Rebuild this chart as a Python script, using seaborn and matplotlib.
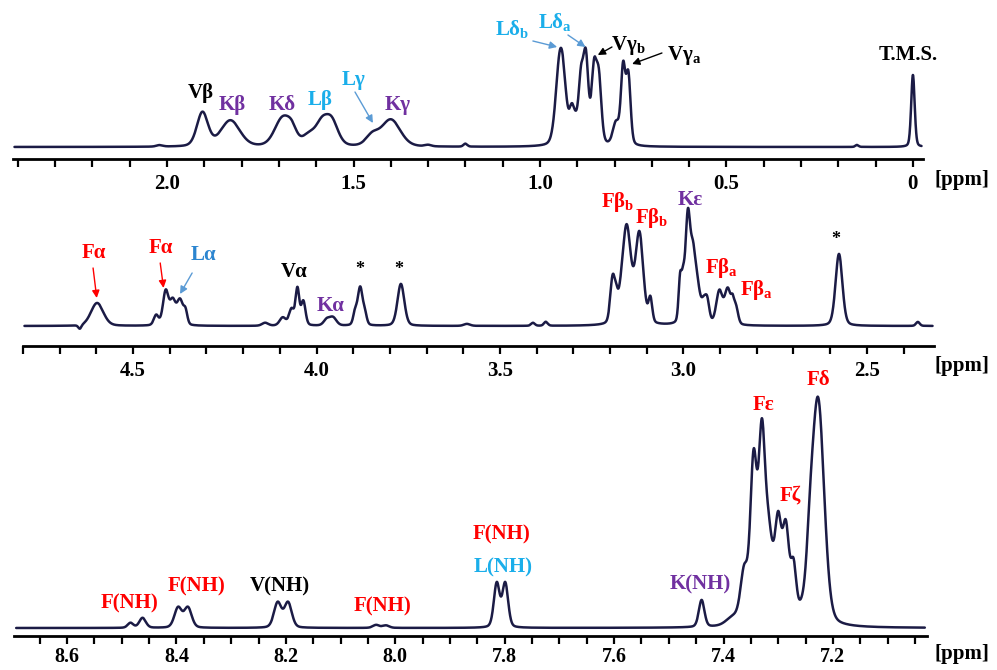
import numpy as np
import pandas as pd
import matplotlib
matplotlib.use("Agg")
import matplotlib.pyplot as plt
from matplotlib.ticker import MultipleLocator, FuncFormatter
import seaborn as sns

sns.set_theme(style="white")
plt.rcParams["font.family"] = ["Liberation Serif", "DejaVu Serif"]
plt.rcParams["font.weight"] = "bold"
plt.rcParams["mathtext.fontset"] = "custom"
plt.rcParams["mathtext.rm"] = "Liberation Serif:bold"
plt.rcParams["mathtext.bf"] = "Liberation Serif:bold"

# ---- peak tables (chemical shift / ppm, height, line width / ppm) ----
# aliphatic region 2.4 - 0 ppm
top_centers = [2.02, 1.905, 1.83, 1.69, 1.665, 1.62, 1.585, 1.558, 1.45, 1.40, 1.30, 1.20,
               0.949, 0.939, 0.915, 0.905, 0.890, 0.877, 0.855, 0.842,
               0.796, 0.777, 0.763, 0.15, 0.0]
top_heights = [1.5, 34, 26, 28, 11, 10, 21, 23, 10, 27, 1.5, 3,
               55, 55, 24, 18, 58, 84, 72, 62,
               22, 76, 68, 2, 72]
top_widths = [0.02, 0.035, 0.06, 0.05, 0.03, 0.04, 0.04, 0.04, 0.04, 0.06, 0.02, 0.012,
              0.025, 0.025, 0.015, 0.02, 0.015, 0.016, 0.016, 0.016,
              0.02, 0.014, 0.014, 0.01, 0.011]

# alpha / beta region 4.8 - 2.3 ppm
mid_centers = [4.645, 4.598, 4.437, 4.411, 4.392, 4.372, 4.357,
               4.14, 4.092, 4.068, 4.052, 4.036, 3.972, 3.955,
               3.895, 3.881, 3.868, 3.770, 3.59, 3.41, 3.375,
               3.193, 3.183, 3.172, 3.155, 3.120, 3.090,
               3.009, 3.001, 2.988, 2.974, 2.962, 2.945, 2.935,
               2.902, 2.879, 2.866, 2.857, 2.576, 2.361]
mid_heights = [-4, 23, 10, 34, 23, 25, 12,
               3, 8, 16, 36, 24, 6, 8,
               12, 38, 10, 42, 2, 3, 4,
               44, 18, 6, 98, 90, 24,
               42, 30, 105, 58, 33, 18, 20,
               33, 35, 14, 17, 72, 4]
mid_widths = [0.01, 0.04, 0.015, 0.018, 0.018, 0.02, 0.012,
              0.02, 0.02, 0.016, 0.012, 0.014, 0.02, 0.022,
              0.012, 0.016, 0.012, 0.022, 0.02, 0.012, 0.012,
              0.015, 0.012, 0.012, 0.028, 0.025, 0.012,
              0.01, 0.01, 0.016, 0.016, 0.018, 0.016, 0.014,
              0.02, 0.02, 0.01, 0.014, 0.022, 0.012]

# amide / aromatic region 8.7 - 7.0 ppm
low_centers = [8.484, 8.462, 8.397, 8.379, 8.215, 8.196, 8.035, 8.017,
               7.8145, 7.799, 7.440, 7.382, 7.362, 7.345, 7.330, 7.318, 7.310,
               7.300, 7.286, 7.272, 7.258, 7.242, 7.227]
low_heights = [5, 10, 20, 20, 25, 25, 3, 2.5,
               44, 44, 27, 8, 50, 158, 176, 74, 15,
               93, 90, 52, 8, 45, 224]
low_widths = [0.012, 0.014, 0.016, 0.016, 0.016, 0.016, 0.014, 0.014,
              0.0125, 0.0125, 0.012, 0.03, 0.016, 0.014, 0.014, 0.016, 0.015,
              0.014, 0.014, 0.012, 0.015, 0.016, 0.026]

LINE = "#1B1B45"
RED = "#FF0000"
LBLUE = "#1AAEEA"
BLUE = "#2B85D0"
PURPLE = "#7030A0"
ARROW_BLUE = "#5B9BD5"


def spectrum(grid, centers, heights, widths, eta=0.25):
    """Pseudo-Voigt sum of the listed resonances."""
    y = np.zeros_like(grid)
    for c, h, w in zip(centers, heights, widths):
        d = (grid - c) / w
        g = np.exp(-4 * np.log(2) * d ** 2)
        l = 1.0 / (1.0 + 4 * d ** 2)
        y += h * ((1 - eta) * g + eta * l)
    return y


W, H = 997, 670
fig = plt.figure(figsize=(W / 100, H / 100), dpi=100)


def make_axes(left, right, spine_y, top_y):
    return fig.add_axes([left / W, 1 - spine_y / H, (right - left) / W, (spine_y - top_y) / H])


panels = [
    dict(px=(13, 923, 158.5, 20), xlim=(2.413, -0.027), ylim=(-11.5, 127), major=0.5, minor=0.1,
         peaks=(top_centers, top_heights, top_widths), lsize=15, pad=5),
    dict(px=(23, 934, 346, 195), xlim=(4.80, 2.317), ylim=(-20, 131), major=0.5, minor=0.1,
         peaks=(mid_centers, mid_heights, mid_widths), lsize=15, pad=5),
    dict(px=(14, 927, 636, 367), xlim=(8.697, 7.028), ylim=(-8, 261), major=0.2, minor=0.05,
         peaks=(low_centers, low_heights, low_widths), lsize=14.5, pad=2),
]

axes = []
for p in panels:
    ax = make_axes(*p["px"])
    lo, hi = min(p["xlim"]), max(p["xlim"])
    grid = np.linspace(lo + 0.004, hi - 0.004, 6000)
    df = pd.DataFrame({"ppm": grid, "intensity": spectrum(grid, *p["peaks"])})
    sns.lineplot(data=df, x="ppm", y="intensity", ax=ax, color=LINE, lw=1.8, sort=True)
    ax.set_xlim(*p["xlim"])
    ax.set_ylim(*p["ylim"])
    ax.patch.set_alpha(0)
    for s in ("top", "left", "right"):
        ax.spines[s].set_visible(False)
    ax.spines["bottom"].set_linewidth(2.0)
    ax.spines["bottom"].set_color("black")
    ax.set_yticks([])
    ax.set_xlabel("")
    ax.set_ylabel("")
    ax.xaxis.set_major_locator(MultipleLocator(p["major"]))
    ax.xaxis.set_minor_locator(MultipleLocator(p["minor"]))
    ax.xaxis.set_major_formatter(FuncFormatter(lambda v, pos: "0" if abs(v) < 1e-9 else f"{v:.1f}"))
    ax.tick_params(axis="x", which="both", direction="out", length=6, width=1.6, color="black",
                   bottom=True)
    ax.tick_params(axis="x", which="major", labelsize=p["lsize"], pad=p["pad"], labelcolor="black")
    for t in ax.get_xticklabels():
        t.set_fontweight("bold")
    axes.append(ax)

for y in (180, 366, 654):
    fig.text(962 / W, 1 - y / H, "[ppm]", ha="center", va="center", fontsize=15,
             fontweight="bold", color="black")


def label(ax, x, y, s, color, size=15):
    ax.text(x, y, s, ha="center", va="center", color=color, fontsize=size,
            fontweight="bold", clip_on=False)


def arrow(ax, tail, tip, color):
    ax.annotate("", xy=tip, xytext=tail,
                arrowprops=dict(arrowstyle="-|>", color=color, lw=1.0, mutation_scale=11,
                                shrinkA=0, shrinkB=0), annotation_clip=False)


a1, a2, a3 = axes
# aliphatic assignments
label(a1, 1.909, 54, "Vβ", "black")
label(a1, 1.826, 42, "Kβ", PURPLE)
label(a1, 1.692, 42, "Kδ", PURPLE)
label(a1, 1.590, 47, "Lβ", LBLUE)
label(a1, 1.499, 67, "Lγ", LBLUE)
arrow(a1, (1.496, 55), (1.448, 24), ARROW_BLUE)
label(a1, 1.383, 42, "Kγ", PURPLE)
label(a1, 1.075, 117, "Lδ$_\\mathregular{b}$", LBLUE)
arrow(a1, (1.019, 106), (0.954, 100), ARROW_BLUE)
label(a1, 0.960, 124, "Lδ$_\\mathregular{a}$", LBLUE)
arrow(a1, (0.925, 112), (0.878, 100), ARROW_BLUE)
label(a1, 0.764, 102, "Vγ$_\\mathregular{b}$", "black")
arrow(a1, (0.807, 100), (0.845, 92), "black")
label(a1, 0.614, 92, "Vγ$_\\mathregular{a}$", "black")
arrow(a1, (0.673, 94), (0.753, 83), "black")
label(a1, 0.013, 92, "T.M.S.", "black")

# alpha / beta assignments
label(a2, 4.606, 73, "Fα", RED)
arrow(a2, (4.609, 58), (4.599, 28), RED)
label(a2, 4.424, 78, "Fα", RED)
arrow(a2, (4.426, 63), (4.417, 38), RED)
label(a2, 4.307, 71, "Lα", BLUE)
arrow(a2, (4.339, 53), (4.372, 32), ARROW_BLUE)
label(a2, 4.061, 54, "Vα", "black")
label(a2, 3.963, 20, "Kα", PURPLE)
label(a2, 3.881, 57, "*", "black", 13)
label(a2, 3.775, 57, "*", "black", 13)
label(a2, 3.180, 124, "Fβ$_\\mathregular{b}$", RED)
label(a2, 3.085, 108, "Fβ$_\\mathregular{b}$", RED)
label(a2, 2.982, 126, "Kε", PURPLE)
label(a2, 2.895, 58, "Fβ$_\\mathregular{a}$", RED)
label(a2, 2.800, 36, "Fβ$_\\mathregular{a}$", RED)
label(a2, 2.584, 86, "*", "black", 13)

# amide / aromatic assignments
label(a3, 8.485, 25, "F(NH)", RED)
label(a3, 8.364, 42, "F(NH)", RED)
label(a3, 8.211, 42, "V(NH)", "black")
label(a3, 8.024, 22, "F(NH)", RED)
label(a3, 7.805, 94, "F(NH)", RED)
label(a3, 7.803, 61, "L(NH)", LBLUE)
label(a3, 7.443, 44, "K(NH)", PURPLE)
label(a3, 7.326, 223, "Fε", RED)
label(a3, 7.278, 133, "Fζ", RED)
label(a3, 7.227, 248, "Fδ", RED)

fig.savefig("out.png", dpi=100)
